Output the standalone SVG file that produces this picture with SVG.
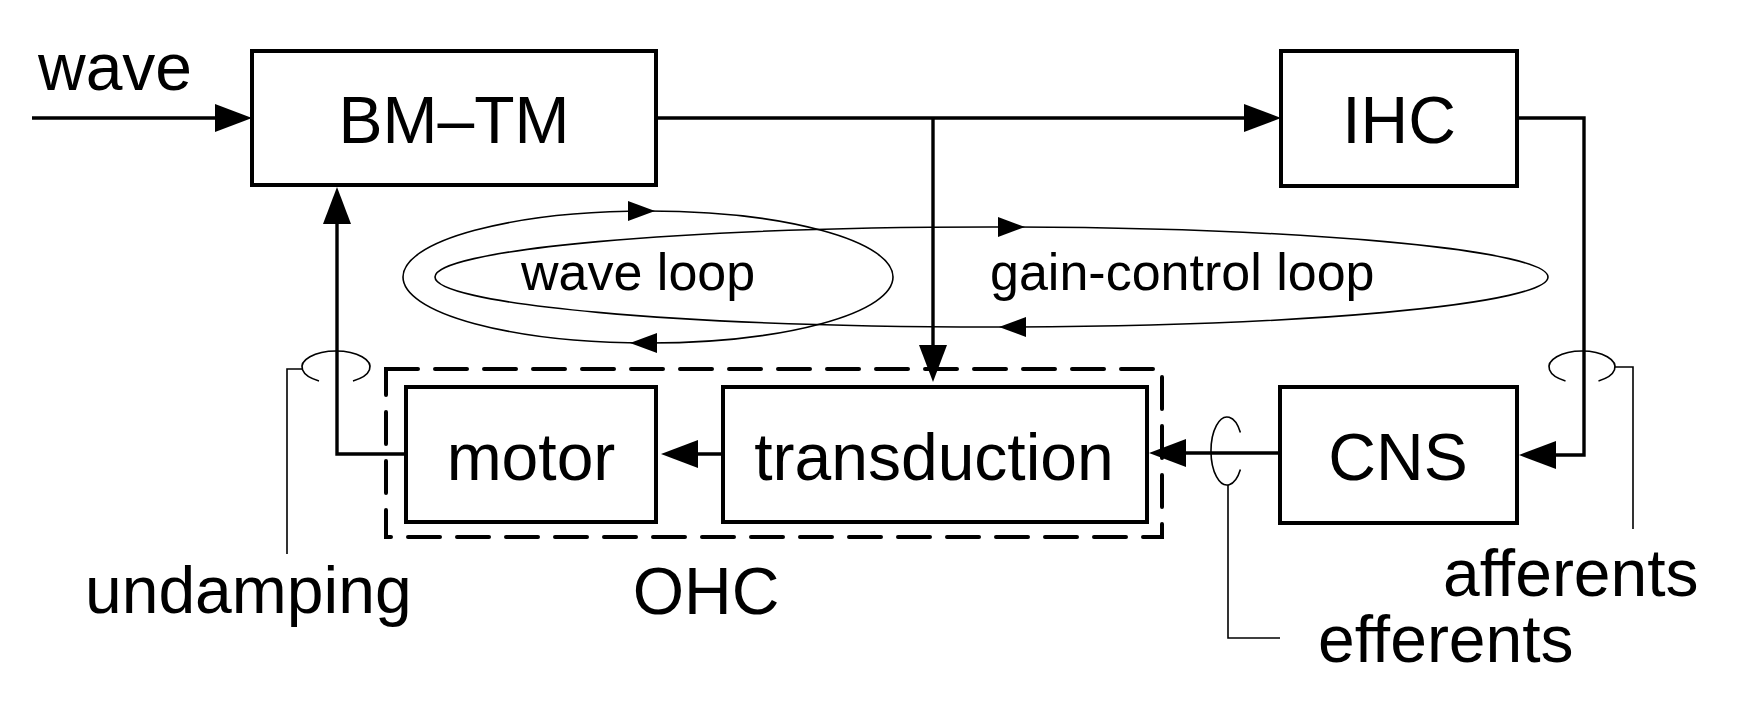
<svg xmlns="http://www.w3.org/2000/svg" xmlns:xlink="http://www.w3.org/1999/xlink" width="1740" height="708" viewBox="0 0 1740 708">
<style>
.box{fill:none;stroke:#000;stroke-width:4}
.ln{fill:none;stroke:#000;stroke-width:3.4}
.thin{fill:none;stroke:#000;stroke-width:1.6}
.dash{fill:none;stroke:#000;stroke-width:4;stroke-dasharray:32 17;stroke-linecap:round}
.big{font-family:"Liberation Sans",Arial,Helvetica,sans-serif;font-size:66px;fill:#000}
.mid{font-family:"Liberation Sans",Arial,Helvetica,sans-serif;font-size:52px;fill:#000}
.ah{fill:#000}
</style>
<defs>
<marker id="arr" markerUnits="userSpaceOnUse" markerWidth="40" markerHeight="30" viewBox="0 -15 40 30" refX="31" refY="0" orient="auto">
<path d="M0,-14 L37,0 L0,14 z" fill="#000"/>
</marker>
<path id="sa" d="M0,0 L-27,-10 L-27,10 z"/>
</defs>
<rect width="1740" height="708" fill="#fff"/>

<g id="connectors">
<path class="ln" d="M32,118 L246,118" marker-end="url(#arr)"/>
<path class="ln" d="M656,118 L1275,118" marker-end="url(#arr)"/>
<path class="ln" d="M933,118 L933,376" marker-end="url(#arr)"/>
<path class="ln" d="M1517,118 L1584,118 L1584,455 L1525,455" marker-end="url(#arr)"/>
<path class="ln" d="M1280,453 L1155,453" marker-end="url(#arr)"/>
<path class="ln" d="M723,454 L667,454" marker-end="url(#arr)"/>
<path class="ln" d="M406,454 L337,454 L337,193" marker-end="url(#arr)"/>
</g>

<g id="wave-loop">
<ellipse class="thin" cx="648" cy="277" rx="245" ry="66"/>
<use xlink:href="#sa" class="ah" transform="translate(655,211)"/>
<use xlink:href="#sa" class="ah" transform="translate(630,343) rotate(180)"/>
<text class="mid" x="521" y="290">wave loop</text>
</g>

<g id="gain-control-loop">
<ellipse class="thin" cx="991.5" cy="277" rx="556.5" ry="50"/>
<use xlink:href="#sa" class="ah" transform="translate(1025,227)"/>
<use xlink:href="#sa" class="ah" transform="translate(999,327) rotate(180)"/>
<text class="mid" x="990" y="290">gain-control loop</text>
</g>

<g id="wave">
<text class="big" x="38" y="90">wave</text>
</g>

<g id="bm-tm">
<rect class="box" x="252" y="51" width="404" height="134"/>
<text class="big" x="454" y="143" text-anchor="middle">BM–TM</text>
</g>

<g id="ihc">
<rect class="box" x="1281" y="51" width="236" height="135"/>
<text class="big" x="1399" y="143" text-anchor="middle">IHC</text>
</g>

<g id="ohc">
<rect class="dash" x="386" y="369" width="776" height="168"/>
<text class="big" x="706" y="614" text-anchor="middle">OHC</text>
</g>

<g id="motor">
<rect class="box" x="406" y="387" width="250" height="135"/>
<text class="big" x="531" y="480" text-anchor="middle">motor</text>
</g>

<g id="transduction">
<rect class="box" x="723" y="387" width="424" height="135"/>
<text class="big" x="934" y="480" text-anchor="middle">transduction</text>
</g>

<g id="cns">
<rect class="box" x="1280" y="387" width="237" height="136"/>
<text class="big" x="1398" y="480" text-anchor="middle">CNS</text>
</g>

<g id="undamping">
<path class="thin" d="M353,380.9 A34,16 0 1 0 319,380.9"/>
<path class="thin" d="M302,369 L287,369 L287,554"/>
<text class="big" x="85" y="613">undamping</text>
</g>

<g id="efferents">
<path class="thin" d="M1240.4,432.5 A16,34 0 1 0 1240.4,469.5"/>
<path class="thin" d="M1228,485 L1228,638 L1280,638"/>
<text class="big" x="1318" y="662">efferents</text>
</g>

<g id="afferents">
<path class="thin" d="M1598.5,380.9 A33,16 0 1 0 1565.5,380.9"/>
<path class="thin" d="M1615,367 L1633,367 L1633,529"/>
<text class="big" x="1443" y="596">afferents</text>
</g>
</svg>
